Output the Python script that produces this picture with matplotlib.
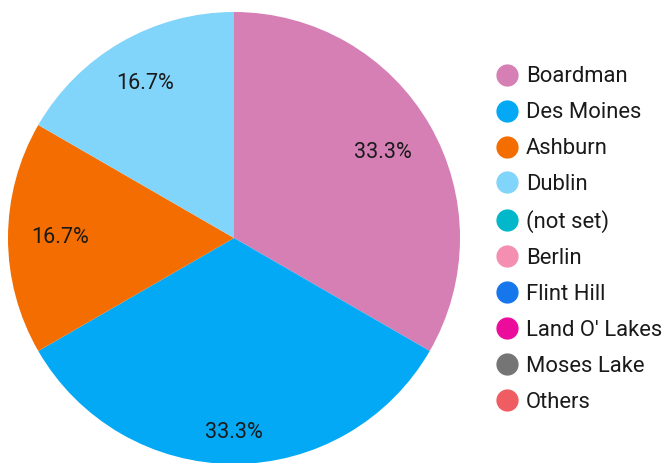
import matplotlib
matplotlib.use("Agg")
import matplotlib.pyplot as plt
from matplotlib.lines import Line2D
import numpy as np

plt.rcParams['font.family'] = ['Roboto', 'DejaVu Sans']

categories = ["Boardman", "Des Moines", "Ashburn", "Dublin", "(not set)",
              "Berlin", "Flint Hill", "Land O' Lakes", "Moses Lake", "Others"]
values = [2, 2, 1, 1, 0, 0, 0, 0, 0, 0]
colors = ["#D67FB5", "#03A9F4", "#F46D00", "#81D4FA", "#00B8CA",
          "#F48FB1", "#1677EC", "#EC0C9C", "#757575", "#EF5D62"]

fig = plt.figure(figsize=(6.68, 4.63), dpi=100)
ax = fig.add_axes([8/668, 1 - 464/463, 452/668, 452/463])

nz = [(v, c) for v, c in zip(values, colors) if v > 0]
wedges, texts = ax.pie(
    [v for v, _ in nz], colors=[c for _, c in nz],
    startangle=90, counterclock=False,
    wedgeprops=dict(linewidth=0))
ax.set_aspect("equal")
ax.set_xlim(-1, 1)
ax.set_ylim(-1, 1)

total = sum(v for v, _ in nz)
label_r = [0.76, 0.86, 0.77, 0.79]
for w, (v, _), r in zip(wedges, nz, label_r):
    ang = np.deg2rad((w.theta1 + w.theta2) / 2)
    ax.text(r * np.cos(ang), r * np.sin(ang), f"{100 * v / total:.1f}%",
            ha="center", va="center", fontsize=15.5, color="#1a1a1a")

handles = [Line2D([0], [0], marker='o', linestyle='', markersize=15,
                  markerfacecolor=c, markeredgecolor=c) for c in colors]
fig.legend(handles, categories, loc="center left",
           bbox_to_anchor=(482/668, 0.5 - 8/463), frameon=False,
           fontsize=15.8, labelspacing=0.68, handletextpad=0.1,
           handlelength=1.5, borderaxespad=0, labelcolor="#1a1a1a")

fig.savefig("out.png", dpi=100)
